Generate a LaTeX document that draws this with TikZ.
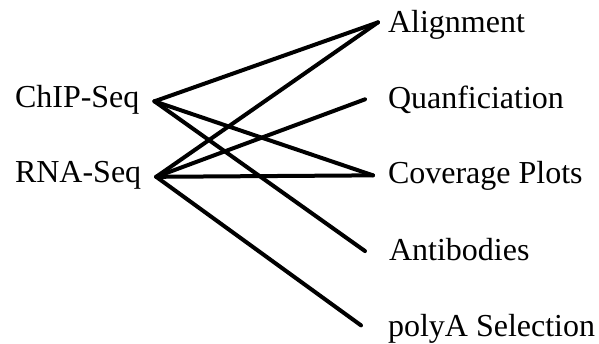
\documentclass[tikz,border=0pt]{standalone}
\usepackage{fontspec}
\setmainfont{Liberation Serif}
\begin{document}
\begin{tikzpicture}[x=0.5pt,y=-0.5pt,
  lbl/.style={inner sep=0pt,outer sep=0pt,anchor=base west,font=\fontsize{16}{19}\selectfont},
  link/.style={line width=2pt,line cap=round,black}]
\useasboundingbox (0,0) rectangle (599,343);
% left column
\node[lbl] (chip) at (15,107) {ChIP-Seq};
\node[lbl] (rna) at (15,182) {RNA-Seq};
% right column
\node[lbl] (align) at (388,32) {Alignment};
\node[lbl] (quan) at (388,108) {Quanficiation};
\node[lbl] (cov) at (388,183) {Coverage Plots};
\node[lbl] (anti) at (389,260) {Antibodies};
\node[lbl] (polya) at (388,336) {polyA Selection};
% connections
\coordinate (chipR) at ([xshift=7.5pt,yshift=-1pt]chip.east);
\coordinate (rnaR) at ([xshift=7.5pt,yshift=-1pt]rna.east);
\draw[link] (chipR) -- ([xshift=-5pt,yshift=1pt]align.west);
\draw[link] (chipR) -- ([xshift=-7.5pt]cov.west);
\draw[link] (chipR) -- ([xshift=-12pt,yshift=-1pt]anti.west);
\draw[link] (rnaR) -- ([xshift=-5pt,yshift=1pt]align.west);
\draw[link] (rnaR) -- ([xshift=-11.5pt]quan.west);
\draw[link] (rnaR) -- ([xshift=-7.5pt]cov.west);
\draw[link] (rnaR) -- ([xshift=-13.5pt,yshift=1.5pt]polya.west);
\end{tikzpicture}
\end{document}
